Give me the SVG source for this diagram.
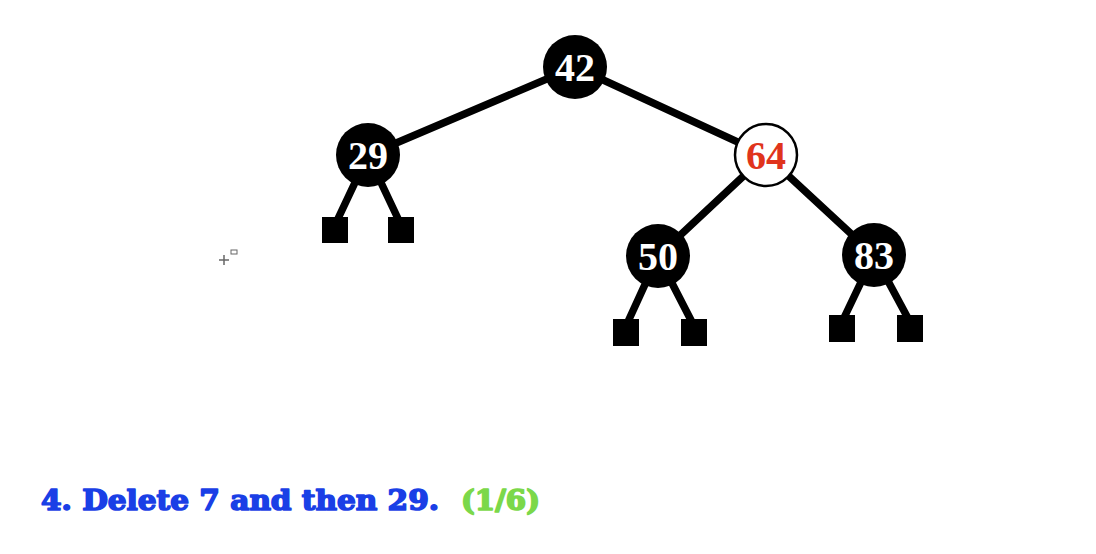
<svg xmlns="http://www.w3.org/2000/svg" width="1096" height="554" viewBox="0 0 1096 554">
<style>
.edge{stroke:#000;stroke-width:7.5;stroke-linecap:round}
.bn{fill:#000}
.rn{fill:#fff;stroke:#000;stroke-width:2.5}
.lbl{font-family:"Liberation Serif","DejaVu Serif",serif;font-size:40px;text-anchor:middle;font-weight:bold}
.leaf{fill:#000}
.cap{font-family:"DejaVu Serif","Liberation Serif",serif;font-weight:bold;font-size:27px;stroke-width:1.6;stroke-linejoin:round}
</style>
<rect width="1096" height="554" fill="#fff"/>
<g id="connectors">
<line class="edge" x1="575" y1="67" x2="368" y2="155"/>
<line class="edge" x1="575" y1="67" x2="766" y2="155"/>
<line class="edge" x1="368" y1="155" x2="335" y2="225"/>
<line class="edge" x1="368" y1="155" x2="401" y2="225"/>
<line class="edge" x1="766" y1="155" x2="658" y2="256"/>
<line class="edge" x1="766" y1="155" x2="874" y2="255"/>
<line class="edge" x1="658" y1="256" x2="626" y2="326"/>
<line class="edge" x1="658" y1="256" x2="694" y2="326"/>
<line class="edge" x1="874" y1="255" x2="842" y2="322"/>
<line class="edge" x1="874" y1="255" x2="910" y2="322"/>
</g>
<g id="n42"><circle class="bn" cx="575" cy="67" r="32"/><text class="lbl" x="575" y="81" fill="#fff">42</text></g>
<g id="n29"><circle class="bn" cx="368" cy="155" r="32"/><text class="lbl" x="368" y="169" fill="#fff">29</text></g>
<g id="n64"><circle class="rn" cx="766" cy="155" r="31"/><text class="lbl" x="766" y="169" fill="#e0341c">64</text></g>
<g id="n50"><circle class="bn" cx="658" cy="256" r="32"/><text class="lbl" x="658" y="270" fill="#fff">50</text></g>
<g id="n83"><circle class="bn" cx="874" cy="255" r="32"/><text class="lbl" x="874" y="269" fill="#fff">83</text></g>
<g id="leaf1"><rect class="leaf" x="322" y="217" width="26" height="26"/></g>
<g id="leaf2"><rect class="leaf" x="388" y="217" width="26" height="26"/></g>
<g id="leaf3"><rect class="leaf" x="613" y="319" width="26" height="27"/></g>
<g id="leaf4"><rect class="leaf" x="681" y="319" width="26" height="27"/></g>
<g id="leaf5"><rect class="leaf" x="829" y="315" width="26" height="27"/></g>
<g id="leaf6"><rect class="leaf" x="897" y="315" width="26" height="27"/></g>
<g id="cursor" stroke="#666" fill="none">
<line x1="219" y1="260" x2="229" y2="260" stroke-width="1.5"/>
<line x1="224" y1="255" x2="224" y2="265" stroke-width="1.5"/>
<rect x="231" y="250" width="6" height="4" stroke-width="1"/>
</g>
<text class="cap" x="41" y="510" fill="#1a3fe6" stroke="#1a3fe6" textLength="398" lengthAdjust="spacingAndGlyphs">4. Delete 7 and then 29.</text>
<text class="cap" x="461" y="510" fill="#7bd84a" stroke="#7bd84a" textLength="79" lengthAdjust="spacingAndGlyphs">(1/6)</text>
</svg>
